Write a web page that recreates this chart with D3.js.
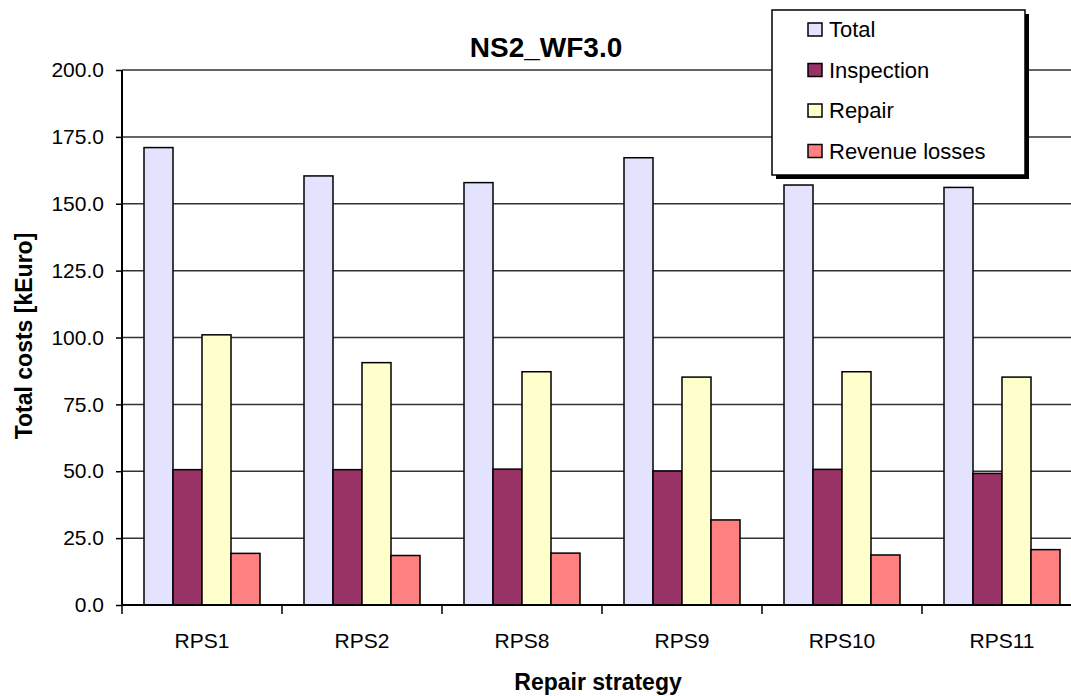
<!DOCTYPE html>
<html>
<head>
<meta charset="utf-8">
<script src="https://cdn.jsdelivr.net/npm/d3@7"></script>
<style>
  body { margin: 0; background: #fff; }
  svg { display: block; font-family: Arial, "Liberation Sans", sans-serif; }
</style>
</head>
<body>
<div id="chart-area"></div>
<script>
const categories = ['RPS1', 'RPS2', 'RPS8', 'RPS9', 'RPS10', 'RPS11'];
const seriesNames = ['Total', 'Inspection', 'Repair', 'Revenue losses'];
const totalValues = [171.0, 160.4, 157.9, 167.2, 157.0, 156.1];
const inspectionValues = [50.6, 50.6, 50.8, 50.1, 50.7, 49.2];
const repairValues = [101.0, 90.6, 87.2, 85.2, 87.2, 85.2];
const revenueValues = [19.3, 18.5, 19.4, 31.8, 18.7, 20.7];
const yTicks = [0, 25, 50, 75, 100, 125, 150, 175, 200];
const colors = ['#E3E3FF', '#993366', '#FFFFCC', '#FF8080'];

const seriesValues = [totalValues, inspectionValues, repairValues, revenueValues];

const width = 1071;
const height = 696;
const plot = { left: 122, right: 1082, top: 70, bottom: 605 };

const svg = d3.select('#chart-area').append('svg')
  .attr('width', width)
  .attr('height', height);

const x = d3.scaleBand()
  .domain(categories)
  .range([plot.left, plot.right]);

const xSeries = d3.scaleBand()
  .domain(seriesNames)
  .range([22, x.bandwidth() - 22]);

const y = d3.scaleLinear()
  .domain([0, 200])
  .range([plot.bottom, plot.top]);

// gridlines
svg.append('g')
  .selectAll('line')
  .data(yTicks.slice(1))
  .join('line')
    .attr('x1', plot.left)
    .attr('x2', plot.right)
    .attr('y1', d => y(d))
    .attr('y2', d => y(d))
    .attr('stroke', '#333')
    .attr('stroke-width', 1.5);

// bars
const groups = svg.append('g')
  .selectAll('g')
  .data(categories)
  .join('g')
    .attr('transform', d => `translate(${x(d)},0)`);

groups.selectAll('rect')
  .data((c, i) => seriesNames.map((s, j) => ({ s, j, v: seriesValues[j][i] })))
  .join('rect')
    .attr('x', d => xSeries(d.s))
    .attr('y', d => y(d.v))
    .attr('width', xSeries.bandwidth())
    .attr('height', d => y(0) - y(d.v))
    .attr('fill', d => colors[d.j])
    .attr('stroke', '#000')
    .attr('stroke-width', 1.5);

// y axis
const axisY = d3.axisLeft(y)
  .tickValues(yTicks)
  .tickFormat(d3.format('.1f'))
  .tickSize(6)
  .tickPadding(12);

const gy = svg.append('g')
  .attr('transform', `translate(${plot.left},0)`)
  .call(axisY);
gy.select('.domain').attr('stroke', '#000').attr('stroke-width', 2)
  .attr('d', `M0,${plot.top}V${plot.bottom}`);
gy.selectAll('.tick line').attr('stroke', '#000').attr('stroke-width', 1.5);
gy.selectAll('.tick text').attr('font-size', '21px').attr('fill', '#000')
  .attr('font-family', 'Arial, "Liberation Sans", sans-serif');

// x axis
const axisX = d3.axisBottom(x)
  .tickSize(0)
  .tickPadding(28);

const gx = svg.append('g')
  .attr('transform', `translate(0,${plot.bottom})`)
  .call(axisX);
gx.select('.domain').attr('stroke', '#000').attr('stroke-width', 2)
  .attr('d', `M${plot.left},0H${plot.right}`);
gx.selectAll('.tick text').attr('font-size', '21px').attr('fill', '#000')
  .attr('font-family', 'Arial, "Liberation Sans", sans-serif');

gx.append('g')
  .selectAll('line')
  .data(categories.map(c => x(c)).concat([x.range()[1]]))
  .join('line')
    .attr('x1', d => d)
    .attr('x2', d => d)
    .attr('y1', 0)
    .attr('y2', 9)
    .attr('stroke', '#000')
    .attr('stroke-width', 1.5);

// title and axis labels
svg.append('text')
  .text('NS2_WF3.0')
    .attr('x', 546)
    .attr('y', 57)
    .attr('font-size', '28px')
    .attr('font-weight', 'bold')
    .attr('text-anchor', 'middle');

svg.append('text')
  .text('Repair strategy')
    .attr('x', 598)
    .attr('y', 690)
    .attr('font-size', '23px')
    .attr('font-weight', 'bold')
    .attr('text-anchor', 'middle');

svg.append('text')
  .text('Total costs [kEuro]')
    .attr('transform', 'translate(32,336) rotate(-90)')
    .attr('font-size', '23px')
    .attr('font-weight', 'bold')
    .attr('text-anchor', 'middle');

// legend
const legend = svg.append('g')
  .attr('transform', 'translate(772,10)');

legend.append('rect')
  .attr('x', 4)
  .attr('y', 4)
  .attr('width', 253)
  .attr('height', 165)
  .attr('fill', '#000');

legend.append('rect')
  .attr('width', 253)
  .attr('height', 165)
  .attr('fill', '#fff')
  .attr('stroke', '#000')
  .attr('stroke-width', 1.5);

const items = legend.selectAll('g.item')
  .data(seriesNames)
  .join('g')
    .attr('class', 'item')
    .attr('transform', (d, i) => `translate(0,${27 + i * 40.5})`);

items.append('rect')
  .attr('x', 36)
  .attr('y', -14)
  .attr('width', 14)
  .attr('height', 13)
  .attr('fill', (d, i) => colors[i])
  .attr('stroke', '#000')
  .attr('stroke-width', 1.5);

items.append('text')
  .text(d => d)
    .attr('x', 57)
    .attr('y', 0)
    .attr('font-size', '22px');
</script>
</body>
</html>
